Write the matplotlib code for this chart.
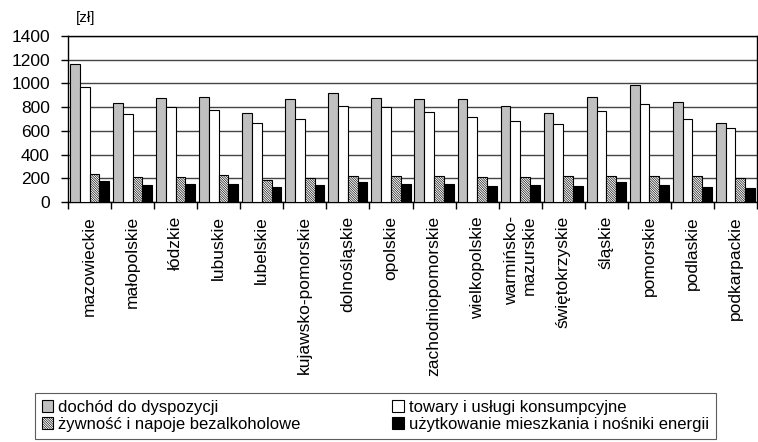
import numpy as np
import matplotlib
matplotlib.use("Agg")
import matplotlib.pyplot as plt
from matplotlib.patches import Patch
from matplotlib.ticker import FixedLocator

plt.rcParams['font.family'] = ['Liberation Sans', 'DejaVu Sans']
plt.rcParams['hatch.linewidth'] = 0.45

# regions (wojewodztwa)
regions = ["mazowieckie", "małopolskie", "łódzkie", "lubuskie", "lubelskie",
           "kujawsko-pomorskie", "dolnośląskie", "opolskie", "zachodniopomorskie",
           "wielkopolskie", "warmińsko-\nmazurskie", "świętokrzyskie", "śląskie",
           "pomorskie", "podlaskie", "podkarpackie"]

# values [zł]
dochod = [1160, 838, 875, 884, 750, 867, 918, 875, 867, 867, 806, 750, 884, 985, 845, 665]
towary = [968, 740, 797, 778, 665, 702, 813, 805, 757, 721, 682, 654, 769, 825, 696, 628]
zywnosc = [238, 207, 207, 230, 188, 202, 219, 219, 219, 207, 207, 219, 219, 219, 219, 199]
mieszkanie = [174, 146, 154, 154, 123, 146, 171, 154, 154, 135, 146, 135, 171, 146, 123, 115]

series_labels = ["dochód do dyspozycji", "towary i usługi konsumpcyjne",
                 "żywność i napoje bezalkoholowe", "użytkowanie mieszkania i nośniki energii"]
yticks = [0, 200, 400, 600, 800, 1000, 1200, 1400]

# dense diagonal hatch
HATCH = '\\' * 14

fig = plt.figure(figsize=(7.58, 4.42), dpi=100)
ax = fig.add_axes([68/758, 1-202/442, 689/758, 166/442])

x = np.arange(len(regions))
w = 0.227
ax.bar(x - 1.5*w, dochod, w, color='#c0c0c0', edgecolor='black', linewidth=0.8, zorder=3)
ax.bar(x - 0.5*w, towary, w, color='white', edgecolor='black', linewidth=0.8, zorder=3)
ax.bar(x + 0.5*w, zywnosc, w, color='white', edgecolor='black', hatch=HATCH,
       linewidth=0.8, zorder=3)
ax.bar(x + 1.5*w, mieszkanie, w, color='black', edgecolor='black', linewidth=0.8, zorder=3)

ax.set_xlim(-0.5, len(regions) - 0.5)
ax.set_ylim(0, 1400)
ax.set_yticks(yticks)
ax.set_yticklabels([str(v) for v in yticks], fontsize=12.5)
ax.yaxis.grid(True, color='#444444', linewidth=1, zorder=0)
ax.tick_params(axis='y', direction='out', length=5, width=1, pad=8)

ax.set_xticks(x)
ax.set_xticklabels(regions, rotation=90, fontsize=12.5, va='top', ha='center')
for t in ax.get_xticklabels():
    t.set_multialignment('right')
ax.xaxis.set_minor_locator(FixedLocator(np.arange(-0.5, len(regions), 1.0)))
ax.tick_params(axis='x', which='major', length=0, pad=10)
ax.tick_params(axis='x', which='minor', direction='out', length=5, width=1)

for s in ax.spines.values():
    s.set_color('black')
    s.set_linewidth(1)

fig.text(86/758, 1-18/442, "[zł]", ha='center', va='center', fontsize=11)

handles = [Patch(facecolor='#c0c0c0', edgecolor='black', linewidth=0.8),
           Patch(facecolor='white', edgecolor='black', hatch=HATCH, linewidth=0.8),
           Patch(facecolor='white', edgecolor='black', linewidth=0.8),
           Patch(facecolor='black', edgecolor='black', linewidth=0.8)]
labels = [series_labels[0], series_labels[2], series_labels[1], series_labels[3]]
leg = fig.legend(handles, labels, loc='upper left', bbox_to_anchor=(35/758, 1-393/442),
                 ncol=2, fontsize=12, frameon=True, fancybox=False, edgecolor='#333333',
                 handlelength=0.7, handleheight=0.7, handletextpad=0.3,
                 columnspacing=5.5, labelspacing=0.15, borderpad=0.4, borderaxespad=0)
leg.get_frame().set_linewidth(0.8)

fig.savefig("out.png", dpi=100)
